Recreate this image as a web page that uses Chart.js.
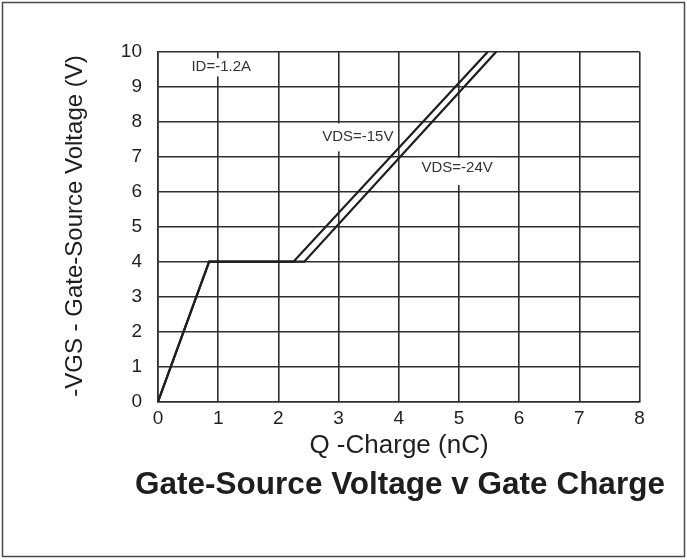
<!DOCTYPE html>
<html>
<head>
<meta charset="utf-8">
<script src="https://cdn.jsdelivr.net/npm/chart.js@4/dist/chart.umd.min.js"></script>
<style>
  html, body { margin: 0; padding: 0; background: #fff; }
  #wrap { position: relative; width: 687px; height: 560px; }
</style>
</head>
<body>
<div id="wrap"><canvas id="c" width="687" height="560"></canvas></div>
<script>
// Axis tick values
const chargeTicks = [0, 1, 2, 3, 4, 5, 6, 7, 8];
const voltageTicks = [0, 1, 2, 3, 4, 5, 6, 7, 8, 9, 10];

// Gate charge curve, VDS = -15V
const chargeVds15 = [0, 0.85, 2.25, 5.48];
const vgsVds15 = [0, 4, 4, 10];

// Gate charge curve, VDS = -24V
const chargeVds24 = [0, 0.85, 2.43, 5.62];
const vgsVds24 = [0, 4, 4, 10];

// Annotation texts
const seriesLabels = ['VDS=-15V', 'VDS=-24V'];
const conditionLabel = 'ID=-1.2A';
const xTitle = 'Q -Charge (nC)';
const yTitle = '-VGS - Gate-Source Voltage (V)';
const chartTitle = 'Gate-Source Voltage v Gate Charge';

const FONT = '"Liberation Sans", Arial, Helvetica, sans-serif';
const INK = '#1e1e1e';
const GRID = '#2e2e2e';

const toPoints = (xs, ys) => xs.map((x, i) => ({ x, y: ys[i] }));

// Text placed in data units, with a white box that hides the grid behind it
function boxedLabel(ctx, chart, text, qx, vy, padX, boxTop, boxBottom) {
  const xs = chart.scales.x, ys = chart.scales.y;
  const cx = xs.getPixelForValue(qx);
  const cy = ys.getPixelForValue(vy);
  ctx.font = '15px ' + FONT;
  const w = ctx.measureText(text).width;
  ctx.fillStyle = '#fff';
  ctx.fillRect(cx - w / 2 - padX, cy - boxTop, w + padX * 2, boxTop + boxBottom);
  ctx.fillStyle = '#333';
  ctx.textAlign = 'center';
  ctx.textBaseline = 'middle';
  ctx.fillText(text, cx, cy);
}

const annotations = {
  id: 'annotations',
  beforeDatasetsDraw(chart) {
    const ctx = chart.ctx;
    ctx.save();
    boxedLabel(ctx, chart, conditionLabel, 1.05, 9.58, 4, 8, 10);
    boxedLabel(ctx, chart, seriesLabels[0], 3.32, 7.58, 3, 13, 15);
    boxedLabel(ctx, chart, seriesLabels[1], 4.97, 6.68, 3, 10, 17);
    ctx.restore();
  },
  afterDraw(chart) {
    const ctx = chart.ctx;
    ctx.save();
    ctx.fillStyle = INK;
    ctx.textAlign = 'center';
    ctx.textBaseline = 'middle';

    ctx.font = '26px ' + FONT;
    ctx.fillText(xTitle, 399, 446);

    ctx.font = 'bold 31.5px ' + FONT;
    ctx.fillText(chartTitle, 400, 485);

    ctx.translate(75, 226);
    ctx.rotate(-Math.PI / 2);
    ctx.font = '24px ' + FONT;
    ctx.fillText(yTitle, 0, 0);
    ctx.restore();

    // outer frame
    ctx.save();
    ctx.strokeStyle = '#4a4a4a';
    ctx.lineWidth = 1.5;
    ctx.strokeRect(2.5, 2.5, 682, 554);
    ctx.restore();
  }
};

const lineStyle = {
  showLine: true,
  borderColor: INK,
  borderWidth: 2.2,
  pointRadius: 0,
  fill: false,
  tension: 0
};

new Chart(document.getElementById('c'), {
  type: 'scatter',
  data: {
    datasets: [
      Object.assign({ label: seriesLabels[0], data: toPoints(chargeVds15, vgsVds15) }, lineStyle),
      Object.assign({ label: seriesLabels[1], data: toPoints(chargeVds24, vgsVds24) }, lineStyle)
    ]
  },
  options: {
    responsive: false,
    animation: false,
    devicePixelRatio: 1,
    layout: { padding: { left: 0, top: 51.7, right: 47.5, bottom: 118.3 } },
    plugins: {
      legend: { display: false },
      tooltip: { enabled: false },
      title: { display: false }
    },
    scales: {
      x: {
        type: 'linear',
        min: chargeTicks[0],
        max: chargeTicks[chargeTicks.length - 1],
        afterBuildTicks: (s) => { s.ticks = chargeTicks.map(v => ({ value: v })); },
        afterFit: (s) => { s.height = 40; },
        grid: { color: GRID, lineWidth: 1.6, drawTicks: false },
        border: { color: GRID, width: 1.6 },
        ticks: { color: INK, font: { family: FONT, size: 19 }, padding: 6, maxRotation: 0 }
      },
      y: {
        type: 'linear',
        min: voltageTicks[0],
        max: voltageTicks[voltageTicks.length - 1],
        afterBuildTicks: (s) => { s.ticks = voltageTicks.map(v => ({ value: v })); },
        afterFit: (s) => { s.width = 158; },
        grid: { color: GRID, lineWidth: 1.6, drawTicks: false },
        border: { color: GRID, width: 1.6 },
        ticks: { color: INK, font: { family: FONT, size: 19 }, padding: 16 }
      }
    }
  },
  plugins: [annotations]
});
</script>
</body>
</html>
